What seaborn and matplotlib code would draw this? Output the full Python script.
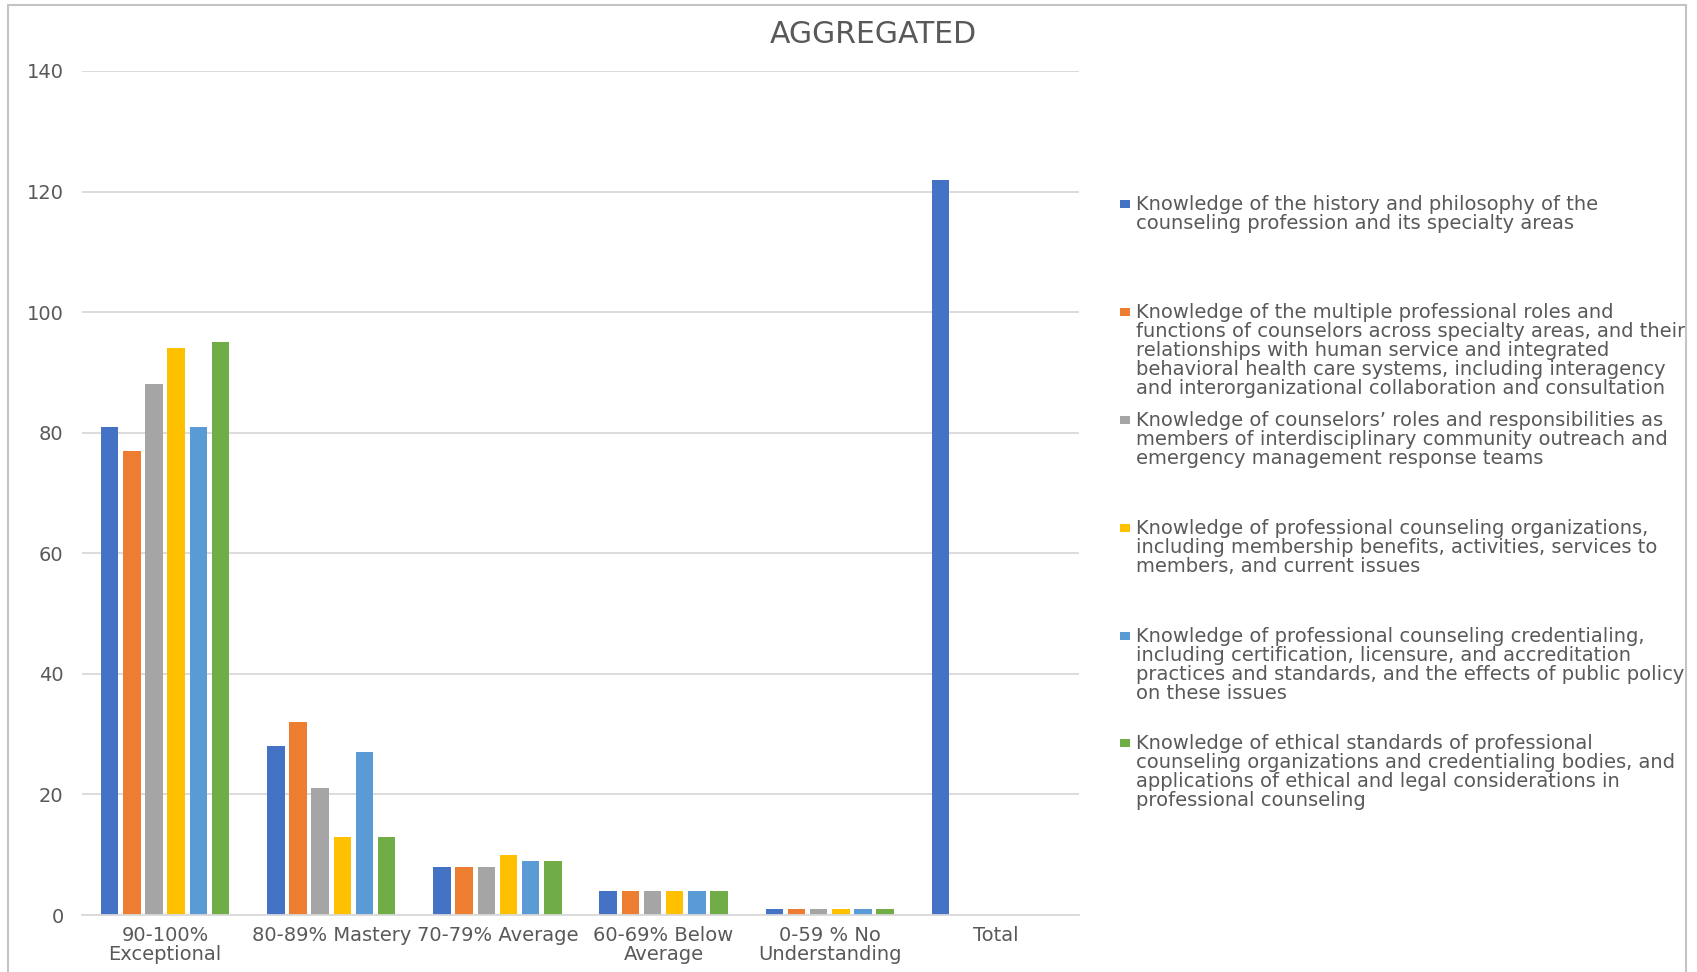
import matplotlib
matplotlib.use("Agg")
import matplotlib.pyplot as plt
import numpy as np
import pandas as pd
import seaborn as sns
from matplotlib.patches import Rectangle
from matplotlib.legend_handler import HandlerPatch
from matplotlib.transforms import Bbox, TransformedBbox

# ---------------- data ----------------
title = "AGGREGATED"
categories = ["90-100%\nExceptional", "80-89% Mastery", "70-79% Average",
              "60-69% Below\nAverage", "0-59 % No\nUnderstanding", "Total"]
series = [
    "Knowledge of the history and philosophy of the\ncounseling profession and its specialty areas",
    "Knowledge of the multiple professional roles and\nfunctions of counselors across specialty areas, and their\n"
    "relationships with human service and integrated\nbehavioral health care systems, including interagency\n"
    "and interorganizational collaboration and consultation",
    "Knowledge of counselors\u2019 roles and responsibilities as\nmembers of interdisciplinary community outreach and\n"
    "emergency management response teams",
    "Knowledge of professional counseling organizations,\nincluding membership benefits, activities, services to\n"
    "members, and current issues",
    "Knowledge of professional counseling credentialing,\nincluding certification, licensure, and accreditation\n"
    "practices and standards, and the effects of public policy\non these issues",
    "Knowledge of ethical standards of professional\ncounseling organizations and credentialing bodies, and\n"
    "applications of ethical and legal considerations in\nprofessional counseling",
]
history_vals = [81, 28, 8, 4, 1, 122]
roles_vals = [77, 32, 8, 4, 1, 0]
teams_vals = [88, 21, 8, 4, 1, 0]
orgs_vals = [94, 13, 10, 4, 1, 0]
cred_vals = [81, 27, 9, 4, 1, 0]
ethics_vals = [95, 13, 9, 4, 1, 0]
colors = ["#4472C4", "#ED7D31", "#A5A5A5", "#FFC000", "#5B9BD5", "#70AD47"]
y_ticks = [0, 20, 40, 60, 80, 100, 120, 140]

all_vals = [history_vals, roles_vals, teams_vals, orgs_vals, cred_vals, ethics_vals]
rows = []
for s, vals in zip(series, all_vals):
    for c, v in zip(categories, vals):
        rows.append({"category": c, "series": s, "value": v})
df = pd.DataFrame(rows)

# ---------------- style ----------------
sns.set_theme(style="white")
plt.rcParams["font.family"] = ["DejaVu Sans"]
TXT = "#595959"

W, H = 1697, 972
fig = plt.figure(figsize=(W / 100, H / 100), dpi=100)
ax = fig.add_axes([82 / W, 1 - 915 / H, (1079 - 82) / W, (915 - 71) / H])

sns.barplot(data=df, x="category", y="value", hue="series", order=categories,
            hue_order=series, palette=colors, width=0.80, gap=0.21,
            saturation=1, errorbar=None, linewidth=0, ax=ax)

ax.set_ylim(0, 140)
ax.set_yticks(y_ticks)
ax.set_xlabel("")
ax.set_ylabel("")
ax.grid(axis="y", color="#d9d9d9", lw=1.3)
ax.grid(axis="x", visible=False)
ax.set_axisbelow(True)
for side in ["top", "right", "left"]:
    ax.spines[side].set_visible(False)
ax.spines["bottom"].set_color("#d9d9d9")
ax.spines["bottom"].set_linewidth(1.3)
ax.tick_params(length=0, labelsize=14, labelcolor=TXT)
ax.tick_params(axis="y", pad=13.2)
ax.tick_params(axis="x", pad=8.0)
for t in ax.get_xticklabels():
    t.set_linespacing(1.02)

fig.suptitle(title, x=873 / W, y=1 - 43 / H, va="baseline", ha="center",
             fontsize=21.5, color=TXT)

# ---------------- legend ----------------
old = ax.get_legend()
handles = list(old.legend_handles)
old.remove()
n_lines = max(s.count("\n") + 1 for s in series)
labels = [s + "\n" * (n_lines - (s.count("\n") + 1)) for s in series]


def small_square(legend, orig_handle, xdescent, ydescent, width, height, fontsize):
    return Rectangle((-xdescent, -ydescent), width, height * 0.62)


hm = {h: HandlerPatch(patch_func=small_square) for h in handles}
leg = fig.legend(handles, labels, loc="upper left",
                 bbox_to_anchor=(1120 / W, 1 - 195.2 / H), frameon=False,
                 fontsize=14, labelcolor=TXT, handlelength=0.5, handleheight=0.66,
                 handletextpad=0.3, labelspacing=0.66, borderpad=0,
                 borderaxespad=0, handler_map=hm)
for col in leg._legend_handle_box.get_children():
    for item in col.get_children():
        item.align = "top"
clip = TransformedBbox(Bbox([[0, 0], [1685 / W, 1]]), fig.transFigure)
for t in leg.get_texts():
    t.set_linespacing(1.0)
    t.set_clip_box(clip)
    t.set_clip_on(True)

# chart frame
fig.add_artist(Rectangle((8 / W, -0.05), (1686 - 8) / W, 1.05 - 5 / H,
                         transform=fig.transFigure, fill=False,
                         ec="#c4c4c4", lw=1.5))

fig.savefig("out.png", dpi=100)
